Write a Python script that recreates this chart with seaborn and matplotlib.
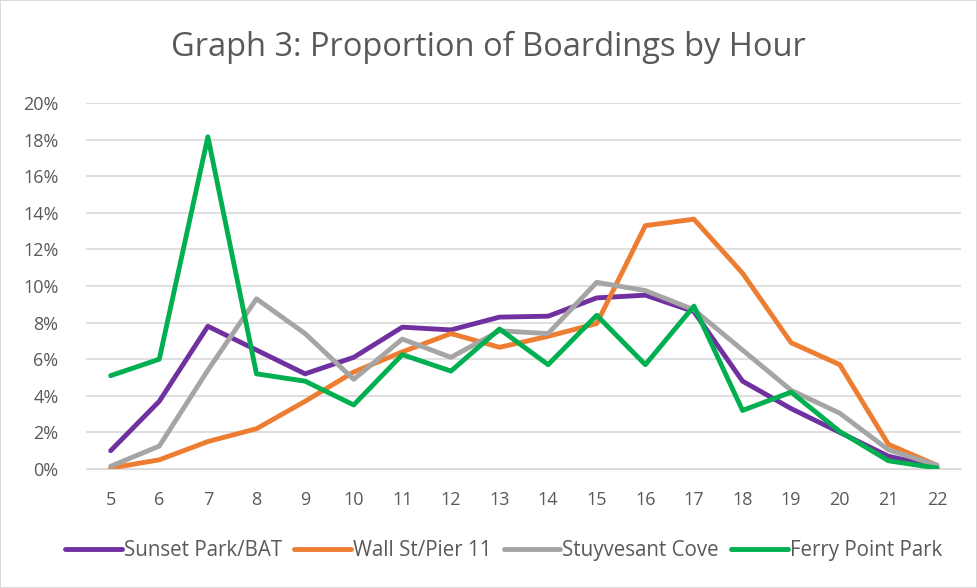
import pandas as pd
import seaborn as sns
import matplotlib.pyplot as plt
from matplotlib.ticker import PercentFormatter

hours = list(range(5, 23))

# proportion of boardings by hour
sunset_park = [0.010, 0.037, 0.078, 0.065, 0.052, 0.061, 0.0775, 0.076, 0.083, 0.0835, 0.0935, 0.095,
               0.086, 0.048, 0.033, 0.020, 0.007, 0.001]
wall_st = [0.0005, 0.005, 0.015, 0.022, 0.037, 0.053, 0.064, 0.074, 0.0665, 0.0725, 0.0795, 0.133,
           0.1365, 0.107, 0.069, 0.057, 0.0135, 0.002]
stuyvesant = [0.0015, 0.0125, 0.054, 0.093, 0.074, 0.049, 0.071, 0.061, 0.0755, 0.074, 0.102, 0.0975,
              0.087, 0.065, 0.043, 0.0305, 0.0105, 0.002]
ferry_point = [0.051, 0.060, 0.1815, 0.052, 0.048, 0.035, 0.0625, 0.0535, 0.0765, 0.057, 0.084, 0.057,
               0.089, 0.032, 0.042, 0.0205, 0.0045, 0.0005]

series_names = ['Sunset Park/BAT', 'Wall St/Pier 11', 'Stuyvesant Cove', 'Ferry Point Park']
colors = ['#7030A0', '#ED7D31', '#A5A5A5', '#00B050']

df = pd.DataFrame({
    'hour': hours * 4,
    'share': sunset_park + wall_st + stuyvesant + ferry_point,
    'station': [n for n in series_names for _ in hours],
})
# category style x axis like excel
df['pos'] = df['hour'] - 5

sns.set_style('white')
plt.rcParams['font.family'] = ['Open Sans', 'DejaVu Sans']

fig = plt.figure(figsize=(9.77, 5.88), dpi=100, edgecolor='#D9D9D9', linewidth=1.2)
ax = fig.add_axes([0.0884, 0.2024, 0.8955, 0.6224])

sns.lineplot(data=df, x='pos', y='share', hue='station', hue_order=series_names,
             palette=colors, linewidth=3.5, ax=ax, legend=True)

ax.set_xlim(-0.5, len(hours) - 0.5)
ax.set_ylim(0, 0.2)
ax.set_xticks(range(len(hours)))
ax.set_xticklabels([str(h) for h in hours])
ax.set_yticks([i / 100 for i in range(0, 21, 2)])
ax.yaxis.set_major_formatter(PercentFormatter(1.0, decimals=0))
ax.grid(axis='y', color='#D9D9D9', linewidth=1.2)
ax.set_axisbelow(True)
for s in ['top', 'right', 'left']:
    ax.spines[s].set_visible(False)
ax.spines['bottom'].set_color('#D9D9D9')
ax.tick_params(axis='both', length=0, labelsize=13, colors='#595959')
ax.tick_params(axis='x', pad=16)
ax.tick_params(axis='y', pad=20)
ax.set_xlabel('')
ax.set_ylabel('')

fig.suptitle('Graph 3: Proportion of Boardings by Hour', y=0.948, fontsize=23.5, color='#595959')

handles, labels = ax.get_legend_handles_labels()
ax.legend(handles, labels, loc='center', bbox_to_anchor=(0.477, -0.222), ncol=4, frameon=False,
          fontsize=14.8, handlelength=2.75, handletextpad=0.1, columnspacing=0.6, labelcolor='#595959')

fig.savefig('out.png', dpi=100, edgecolor=fig.get_edgecolor())
